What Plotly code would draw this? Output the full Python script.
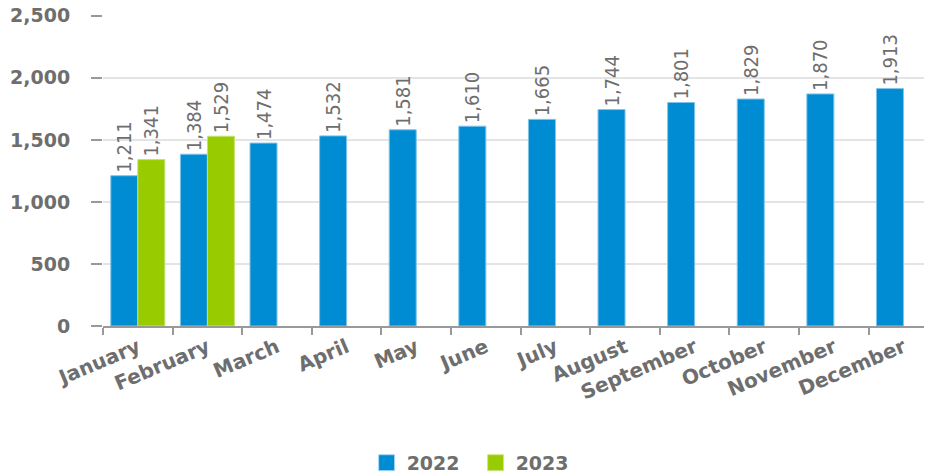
import plotly.graph_objects as go

months = ["January", "February", "March", "April", "May", "June", "July",
          "August", "September", "October", "November", "December"]
values_2022 = [1211, 1384, 1474, 1532, 1581, 1610, 1665, 1744, 1801, 1829, 1870, 1913]
values_2023 = [1341, 1529, None, None, None, None, None, None, None, None, None, None]
y_ticks = [0, 500, 1000, 1500, 2000, 2500]

BLUE = "#008CD2"
GREEN = "#99CC00"
GRAY = "#6e6e6e"
label_font = dict(family="Liberation Sans Narrow, DejaVu Sans Condensed, Arial Narrow, sans-serif",
                  size=20, color=GRAY)

fig = go.Figure()
fig.add_trace(go.Bar(
    x=months, y=values_2022, name="2022", marker_color=BLUE,
    marker_line=dict(color="#7fc4ea", width=1),
    texttemplate="%{y:,}", textposition="outside", textangle=-90,
    constraintext="none",
    textfont=label_font, cliponaxis=False, showlegend=False,
))
fig.add_trace(go.Bar(
    x=months, y=values_2023, name="2023", marker_color=GREEN,
    marker_line=dict(color="#c4e36a", width=1),
    texttemplate="%{y:,}", textposition="outside", textangle=-90,
    constraintext="none",
    textfont=label_font, cliponaxis=False, showlegend=False,
))
# legend entries with larger square symbols
for name, col in [("2022", BLUE), ("2023", GREEN)]:
    fig.add_trace(go.Scatter(
        x=[None], y=[None], mode="markers", name=name,
        marker=dict(symbol="square", size=20, color=col,
                    line=dict(color="#a8d8f2" if col == BLUE else "#cde68a", width=1)),
    ))

# page body adds an 8px offset, so the figure is 924x467
fig.update_layout(
    width=924, height=467,
    margin=dict(l=95, r=0, t=7, b=149, autoexpand=False),
    plot_bgcolor="white", paper_bgcolor="white",
    barmode="group", bargap=0.224, bargroupgap=0,
    font=dict(family="DejaVu Sans", color=GRAY),
    legend=dict(orientation="h", x=0.4495, xanchor="center", y=-0.44, yanchor="middle",
                font=dict(family="DejaVu Sans", size=19, color=GRAY, weight="bold"),
                entrywidth=64, itemsizing="trace"),
)
fig.update_xaxes(
    range=[-0.5, 11.41], automargin=False,
    showline=True, linecolor="#999999", linewidth=2,
    ticks="outside", tickson="boundaries", ticklen=7, tickcolor="#999999", tickwidth=2,
    tickangle=-23,
    tickfont=dict(family="DejaVu Sans", size=20, color=GRAY, weight="bold"),
    showgrid=False,
)
fig.update_yaxes(
    range=[0, 2506], tickvals=y_ticks, tickformat=",", automargin=False,
    ticklabeloverflow="allow",
    showgrid=True, gridcolor="#e4e4e4", gridwidth=2,
    ticks="outside", ticklen=11, tickcolor="#999999", tickwidth=2,
    ticklabelstandoff=17,
    tickfont=dict(family="DejaVu Sans", size=19, color=GRAY, weight="bold"),
    showline=False, zeroline=False,
)

fig.write_html("out.html")
